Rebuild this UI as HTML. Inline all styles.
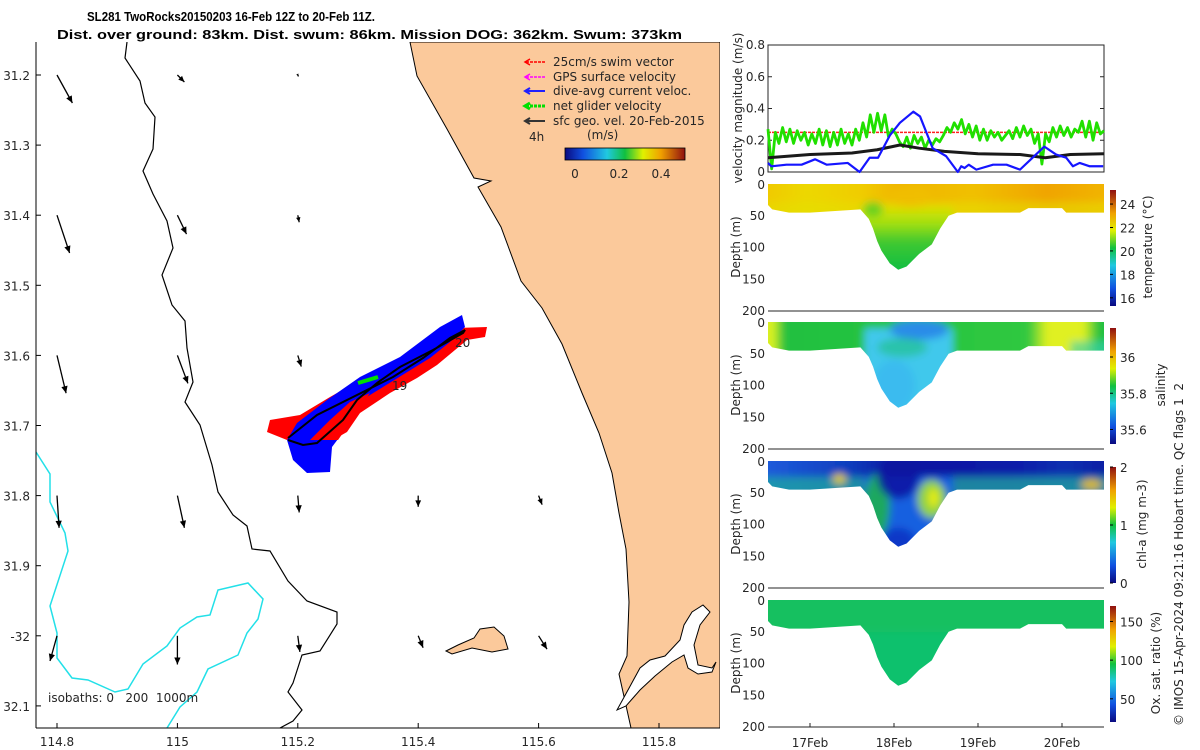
<!DOCTYPE html>
<html><head><meta charset="utf-8">
<style>
html,body{margin:0;padding:0;background:#fff;}
svg{display:block;font-family:"DejaVu Sans","Liberation Sans",sans-serif;}
.t{font-size:12px;fill:#262626;}
</style></head>
<body>
<svg id="fig" width="1200" height="750" viewBox="0 0 1200 750" xmlns="http://www.w3.org/2000/svg">
<defs>
<filter id="blur" x="-10%" y="-10%" width="120%" height="120%"><feGaussianBlur stdDeviation="4"/></filter>
<linearGradient id="jet" x1="0" y1="1" x2="0" y2="0">
<stop offset="0" stop-color="#0a0a80"/><stop offset="0.15" stop-color="#1050e0"/><stop offset="0.35" stop-color="#20c8e0"/><stop offset="0.5" stop-color="#10c040"/><stop offset="0.65" stop-color="#e0f000"/><stop offset="0.8" stop-color="#f0a000"/><stop offset="1" stop-color="#901010"/>
</linearGradient>
<linearGradient id="jeth" x1="0" y1="0" x2="1" y2="0">
<stop offset="0" stop-color="#0a0a80"/><stop offset="0.15" stop-color="#1050e0"/><stop offset="0.35" stop-color="#20c8e0"/><stop offset="0.5" stop-color="#10c040"/><stop offset="0.65" stop-color="#e0f000"/><stop offset="0.8" stop-color="#f0a000"/><stop offset="1" stop-color="#901010"/>
</linearGradient>
<linearGradient id="tempSurf" x1="0" y1="0" x2="1" y2="0">
<stop offset="0" stop-color="#f2c400"/><stop offset="0.15" stop-color="#ecd800"/><stop offset="0.3" stop-color="#f0cc00"/><stop offset="0.4" stop-color="#f0b400"/><stop offset="0.6" stop-color="#f0c000"/><stop offset="0.8" stop-color="#f0a400"/><stop offset="1" stop-color="#f2b800"/>
</linearGradient>
<linearGradient id="tempTrough" x1="0" y1="0" x2="0" y2="1">
<stop offset="0" stop-color="#e0e000"/><stop offset="0.15" stop-color="#a0e010"/><stop offset="0.3" stop-color="#40c830"/><stop offset="0.5" stop-color="#18c040"/><stop offset="1" stop-color="#10c050"/>
</linearGradient>
<linearGradient id="salSurf" x1="0" y1="0" x2="1" y2="0">
<stop offset="0" stop-color="#e4f020"/><stop offset="0.06" stop-color="#d8f020"/><stop offset="0.09" stop-color="#20c040"/><stop offset="0.75" stop-color="#30c840"/><stop offset="0.8" stop-color="#e0f020"/><stop offset="0.9" stop-color="#e0f020"/><stop offset="0.94" stop-color="#20c040"/><stop offset="1" stop-color="#20c040"/>
</linearGradient>
<linearGradient id="chlSurf" x1="0" y1="0" x2="1" y2="0">
<stop offset="0" stop-color="#2060e0"/><stop offset="0.25" stop-color="#1040c0"/><stop offset="0.4" stop-color="#0818a0"/><stop offset="0.7" stop-color="#0a1aa8"/><stop offset="0.85" stop-color="#1030b0"/><stop offset="1" stop-color="#0818a0"/>
</linearGradient>
</defs>

<!-- title -->
<text x="87" y="21" font-family="Liberation Sans, sans-serif" font-size="13" font-weight="bold" fill="#000" textLength="288" lengthAdjust="spacingAndGlyphs">SL281 TwoRocks20150203 16-Feb 12Z to 20-Feb 11Z.</text>
<text x="57" y="39" font-family="Liberation Sans, sans-serif" font-size="13" font-weight="bold" fill="#000" textLength="625" lengthAdjust="spacingAndGlyphs">Dist. over ground: 83km. Dist. swum: 86km. Mission DOG: 362km. Swum: 373km</text>

<!-- MAP -->
<g id="map">
<clipPath id="mapclip"><rect x="36" y="42" width="684" height="686"/></clipPath>
<g clip-path="url(#mapclip)">
<polygon fill="#fbc99b" stroke="#000" stroke-width="1" points="410,42 417,76 447,129 474,178 491,181 478,187 501,227 521,281 542,308 562,344 582,393 599,433 612,473 619,513 626,549 629,602 627,656 619,674 631,728 720,728 720,42"/>
<polygon fill="#fff" stroke="#000" stroke-width="1" points="617,710 628,690 640,668 650,660 665,656 680,640 684,625 692,612 703,605 710,612 700,625 694,645 698,665 712,668 716,662 712,672 698,674 688,668 684,655 672,662 655,676 640,690 626,706"/>
<polygon fill="#fbc99b" stroke="#000" stroke-width="1" points="446,651 458,645 474,638 480,629 494,627 504,636 508,649 492,652 472,648 452,654"/>
<polyline fill="none" stroke="#000" stroke-width="1.2" points="127,42 125,58 140,81 145,103 155,117 153,149 143,171 153,194 167,221 173,248 162,275 172,305 185,321 187,348 193,382 185,402 200,425 212,465 218,492 233,515 247,526 252,549 270,551 288,581 307,601 337,612 337,624 320,651 302,655 293,683 288,692 302,710 293,721 280,728"/>
<polyline fill="none" stroke="#22e0e8" stroke-width="1.5" points="36,452 50,474 50,502 65,533 68,551 50,606 57,633 57,658 72,678 88,680 115,692 128,689 143,664 167,646 180,628 197,617 210,615 218,590 248,583 263,599 258,619 247,633 238,655 208,669 197,692 180,707 167,728"/>
<g id="geoArrows"></g>
<g>
<polygon fill="#ff0000" points="267,432 270,420 300,415 330,397 360,380 397,362 430,342 457,328 487,327 485,337 467,340 437,365 417,378 390,393 360,413 347,432 333,440 317,442 287,440"/>
<polygon fill="#0000ff" points="287,440 293,460 307,473 330,472 332,447 347,427 357,403 383,387 430,358 450,342 465,327 462,315 440,327 400,357 360,377 327,400 297,423"/>
<polygon fill="#ff0000" points="310,440 330,420 350,402 370,393 352,420 338,440"/>
<polyline fill="none" stroke="#00e000" stroke-width="4" points="358,383 378,377"/>
<polyline fill="none" stroke="#000" stroke-width="2" points="288,438 317,415 357,395 393,377 423,358 450,338 465,330 463,333 433,350 400,367 377,383 357,400 343,420 317,443 303,445 288,440"/>
<text class="t" x="392" y="390" font-size="12">19</text>
<text class="t" x="455" y="347" font-size="12">20</text>
</g>
</g>
<line x1="36" y1="42" x2="36" y2="728" stroke="#000"/>
<line x1="36" y1="728" x2="720" y2="728" stroke="#000"/>
<g id="mapTicks"></g>
<text class="t" x="48" y="702" font-size="12" fill="#000">isobaths: 0&#160;&#160;&#160;200&#160;&#160;1000m</text>
<!-- legend -->
<g>
<g><line x1="526" y1="62" x2="545" y2="62" stroke="#ff0000" stroke-width="1.5" stroke-dasharray="3,1"/><polyline points="530,59 525,62 530,65" fill="none" stroke="#ff0000" stroke-width="1.5"/><text class="t" x="553" y="66" fill="#000">25cm/s swim vector</text></g>
<g><line x1="526" y1="77" x2="545" y2="77" stroke="#ff00ff" stroke-width="1.5" stroke-dasharray="3,1"/><polyline points="530,74 525,77 530,80" fill="none" stroke="#ff00ff" stroke-width="1.5"/><text class="t" x="553" y="81" fill="#000">GPS surface velocity</text></g>
<g><line x1="526" y1="91" x2="545" y2="91" stroke="#2020ff" stroke-width="2"/><polyline points="530,88 525,91 530,94" fill="none" stroke="#2020ff" stroke-width="2"/><text class="t" x="553" y="95" fill="#000">dive-avg current veloc.</text></g>
<g><line x1="526" y1="106" x2="545" y2="106" stroke="#00e000" stroke-width="3" stroke-dasharray="3,1"/><polyline points="530,103 525,106 530,109" fill="none" stroke="#00e000" stroke-width="3"/><text class="t" x="553" y="110" fill="#000">net glider velocity</text></g>
<g><line x1="526" y1="121" x2="545" y2="121" stroke="#333" stroke-width="2"/><polyline points="530,118 525,121 530,124" fill="none" stroke="#333" stroke-width="2"/><text class="t" x="553" y="125" fill="#000">sfc geo. vel. 20-Feb-2015</text></g>
<text class="t" x="529" y="141" fill="#000">4h</text>
<text class="t" x="587" y="139" font-size="14" fill="#000">(m/s)</text>
<rect x="565" y="148" width="120" height="12" fill="url(#jeth)" stroke="#000" stroke-width="0.8"/>
<text class="t" x="575" y="178" text-anchor="middle" fill="#000">0</text>
<text class="t" x="619" y="178" text-anchor="middle" fill="#000">0.2</text>
<text class="t" x="661" y="178" text-anchor="middle" fill="#000">0.4</text>
</g>
</g>

<!-- velocity panel -->
<g id="velPanel">
<rect x="768" y="45" width="336" height="127" fill="#fff" stroke="#262626" stroke-width="1"/>
<text class="t" transform="translate(742,108) rotate(-90)" text-anchor="middle">velocity magnitude (m/s)</text>
</g>
<g id="sections"></g>
<text class="t" font-size="13" transform="translate(1183,726) rotate(-90)">© IMOS 15-Apr-2024 09:21:16 Hobart time. QC flags 1&#160;&#160;2</text>

<script>
// ===== chart data =====
const velTicks = [0, 0.2, 0.4, 0.6, 0.8];
const velTickLabels = ["0", "0.2", "0.4", "0.6", "0.8"];
const dayTicks = [17, 18, 19, 20];
const dayTickLabels = ["17Feb", "18Feb", "19Feb", "20Feb"];
const depthTicks = [0, 50, 100, 150, 200];
const greenStartDay = 16.5;
const greenEndDay = 20.5;
const greenNet = [0.27,0.02,0.25,0.18,0.28,0.19,0.27,0.18,0.26,0.2,0.25,0.17,0.24,0.18,0.27,0.17,0.26,0.16,0.25,0.17,0.27,0.18,0.24,0.17,0.27,0.2,
0.31,0.22,0.36,0.25,0.37,0.26,0.36,0.22,0.27,0.24,0.19,0.16,0.22,0.15,0.23,0.18,0.22,0.15,0.2,0.17,0.21,0.19,0.23,
0.28,0.25,0.31,0.27,0.33,0.24,0.3,0.22,0.29,0.2,0.27,0.2,0.26,0.22,0.25,0.2,0.23,0.26,0.21,0.28,0.22,0.29,0.23,0.27,0.18,0.24,0.05,0.24,0.19,0.28,0.22,0.29,0.23,0.28,0.22,0.27,0.25,0.32,0.22,0.32,0.2,0.31,0.24,0.26];
const blueDays = [16.5,16.54,16.72,16.9,17.06,17.2,17.45,17.59,17.71,17.81,17.95,18.07,18.23,18.31,18.46,18.62,18.76,18.8,18.84,18.89,18.98,19.18,19.34,19.5,19.65,19.79,19.93,20.05,20.13,20.21,20.33,20.49];
const blueVals = [0.057,0.036,0.046,0.046,0.08,0.046,0.057,0.0,0.09,0.09,0.23,0.31,0.38,0.35,0.15,0.1,0.0,0.036,0.025,0.046,0.015,0.046,0.046,0.015,0.09,0.16,0.11,0.09,0.036,0.057,0.036,0.036];
const geoDays = [16.5,17.0,17.5,17.8,18.07,18.3,18.6,19.0,19.5,19.8,20.1,20.5];
const geoVals = [0.09,0.11,0.12,0.14,0.17,0.15,0.13,0.115,0.11,0.09,0.11,0.115];
const swimDays = [16.5,20.5];
const swimVals = [0.25,0.25];
const profDays = [16.5,16.55,16.75,17.0,17.6,17.7,17.75,17.8,17.85,17.95,18.05,18.15,18.3,18.45,18.55,18.65,18.75,19.0,19.5,19.6,20.0,20.05,20.5];
const profDepth = [33,40,45,45,40,55,70,90,105,125,135,130,110,95,70,50,45,45,45,38,38,45,45];
const mapLonTicks = [114.8,115,115.2,115.4,115.6,115.8];
const mapLonLabels = ["114.8","115","115.2","115.4","115.6","115.8"];
const mapLatTicks = [31.2,31.3,31.4,31.5,31.6,31.7,31.8,31.9,32,32.1];
const mapLatLabels = ["31.2","31.3","31.4","31.5","31.6","31.7","31.8","31.9","-32","32.1"];
const arrowLon = [114.8,114.8,114.8,114.8,114.8,115,115,115,115,115,115.2,115.2,115.2,115.2,115.2,115.4,115.4,115.6,115.6,115.4];
const arrowLat = [31.2,31.4,31.6,31.8,32,31.2,31.4,31.6,31.8,32,31.2,31.4,31.6,31.8,32,31.8,32,31.8,32,31.6];
const arrowU = [0.022,0.018,0.013,0.003,-0.01,0.01,0.013,0.015,0.01,0.0,0.001,0.002,0.005,0.002,0.003,0.0,0.007,0.005,0.012,-0.003];
const arrowV = [-0.04,-0.054,-0.054,-0.046,-0.036,-0.01,-0.027,-0.04,-0.046,-0.041,-0.002,-0.01,-0.016,-0.024,-0.023,-0.016,-0.017,-0.013,-0.019,-0.014];
const cbTemp = {lo:15.3, hi:25.2, ticks:[16,18,20,22,24]};
const cbSal = {lo:35.52, hi:36.16, ticks:[35.6,35.8,36]};
const cbChl = {lo:0, hi:2, ticks:[0,1,2]};
const cbOx = {lo:20, hi:170, ticks:[50,100,150]};

const NS = "http://www.w3.org/2000/svg";
function mk(tag, attrs, parent){ const e=document.createElementNS(NS,tag); for(const k in attrs) e.setAttribute(k,attrs[k]); if(parent) parent.appendChild(e); return e; }

// ===== map axes =====
const lonX = v => 57 + (v-114.8)/0.2*120.4;
const latY = v => 75 + (v-31.2)/0.1*70.1;
const mt = document.getElementById('mapTicks');
mapLonTicks.forEach((v,i)=>{
  const l=mk('line',{x1:lonX(v),x2:lonX(v),y1:728,y2:723,stroke:'#000'},mt);
  
  
  const t=mk('text',{x:lonX(v),y:746,'text-anchor':'middle',class:'t','font-size':'13',fill:'#000'},mt); t.textContent=mapLonLabels[i];
  
  
});
mapLatTicks.forEach((v,i)=>{
  const l=mk('line',{x1:36,x2:41,y1:latY(v),y2:latY(v),stroke:'#000'},mt);
  
  
  const t=mk('text',{x:30,y:latY(v)+5,'text-anchor':'end',class:'t','font-size':'13',fill:'#000'},mt); t.textContent=mapLatLabels[i];
  
  
});
const ga=document.getElementById('geoArrows');
const arrowScale = 700;
arrowLon.forEach((lo,i)=>{
  const x0=lonX(lo), y0=latY(arrowLat[i]);
  const x1=x0+arrowU[i]*arrowScale, y1=y0-arrowV[i]*arrowScale;
  const g=mk('g',{},ga);
  
  
  mk('line',{x1:x0,y1:y0,x2:x1,y2:y1,stroke:'#000','stroke-width':1.3},g);
  const len=Math.hypot(x1-x0,y1-y0)||1, ux=(x1-x0)/len, uy=(y1-y0)/len, h=Math.min(7,len*0.4+2);
  mk('polygon',{points:`${x1},${y1} ${x1-ux*h-uy*h*0.45},${y1-uy*h+ux*h*0.45} ${x1-ux*h+uy*h*0.45},${y1-uy*h-ux*h*0.45}`,fill:'#000'},g);
});

// ===== velocity panel =====
const dX = d => 768 + (d-16.5)*84;
const vY = v => 172 - v/0.8*127;
const vp=document.getElementById('velPanel');
velTicks.forEach((v,i)=>{
  mk('line',{x1:768,x2:772,y1:vY(v),y2:vY(v),stroke:'#262626'},vp);
  mk('line',{x1:1100,x2:1104,y1:vY(v),y2:vY(v),stroke:'#262626'},vp);
  const t=mk('text',{x:765,y:vY(v)+4,'text-anchor':'end',class:'t'},vp); t.textContent=velTickLabels[i];
  
  
});
function line(days, vals, color, w, name, dash){
  const pts=days.map((d,i)=>dX(d)+','+vY(vals[i])).join(' ');
  const p=mk('polyline',{points:pts,fill:'none',stroke:color,'stroke-width':w,'stroke-linejoin':'round'},vp);
  if(dash) p.setAttribute('stroke-dasharray',dash);
  
  
}
line(swimDays, swimVals, '#ff2020', 1.5, 'swim-speed-line', '3,1');
const gStep=(greenEndDay-greenStartDay)/(greenNet.length-1);
line(greenNet.map((v,i)=>greenStartDay+i*gStep), greenNet, '#20e000', 2.8, 'net-glider-speed-line');
line(geoDays, geoVals, '#1a1a1a', 3, 'geo-speed-line');
line(blueDays, blueVals, '#1515ff', 2.2, 'dive-avg-current-line');

// ===== sections =====
const sec=document.getElementById('sections');
const panels=[
 {name:'temperature',top:184,label:'temperature (°C)',lx:1152,cb:cbTemp},
 {name:'salinity',top:322,label:'salinity',lx:1165,cb:cbSal},
 {name:'chl-a',top:461,label:'chl-a (mg m-3)',lx:1146,cb:cbChl},
 {name:'oxygen',top:600,label:'Ox. sat. ratio (%)',lx:1160,cb:cbOx}
];
panels.forEach((P,pi)=>{
  const g=mk('g',{},sec);
  
  
  const zY = z => P.top + z/200*127;
  let d='M'+dX(profDays[0])+','+zY(0);
  profDays.forEach((dd,i)=>{ d+=' L'+dX(dd)+','+zY(profDepth[i]); });
  d+=' L'+dX(profDays[profDays.length-1])+','+zY(0)+' Z';
  const cid='clip'+pi;
  const cp=mk('clipPath',{id:cid},g); mk('path',{d:d},cp);
  const outer=mk('g',{'clip-path':`url(#${cid})`},g);
  const fills=mk('g',{filter:'url(#blur)'},outer);
  const R=(d0,d1,z0,z1,fill,op)=>mk('rect',{x:dX(d0),y:zY(z0),width:dX(d1)-dX(d0),height:zY(z1)-zY(z0),fill:fill,opacity:op||1},fills);
  const E=(dc,zc,rx,rz,fill,op)=>mk('ellipse',{cx:dX(dc),cy:zY(zc),rx:rx*84,ry:rz/200*127,fill:fill,opacity:op||1},fills);
  if(pi===0){
    R(16.3,20.7,-20,220,'url(#tempSurf)');
    R(16.3,20.7,28,60,'#e4e000',0.55);
    R(17.6,18.7,35,220,'url(#tempTrough)');
    E(17.75,40,0.12,12,'#60d020',0.9);
    E(18.2,20,0.25,18,'#f0c000',0.7);
  } else if(pi===1){
    R(16.3,20.7,-20,220,'url(#salSurf)');
    R(17.65,18.7,10,220,'#40c8ec');
    E(18.3,12,0.35,16,'#2a8ce8');
    E(18.1,40,0.3,15,'#20c090',0.7);
    E(18.0,100,0.25,40,'#38b8f0',0.8);
    R(20.1,20.7,30,60,'#30d0c0',0.6);
  } else if(pi===2){
    R(16.3,20.7,-20,220,'url(#chlSurf)');
    R(16.3,20.7,25,60,'#20a8a0',0.75);
    R(17.65,18.7,25,220,'#1460e0');
    E(17.8,70,0.15,50,'#20b050',0.9);
    E(18.45,60,0.17,30,'#a0e030',0.9);
    E(18.47,58,0.06,15,'#f0f000',0.9);
    E(17.35,28,0.08,8,'#f0d000',0.9);
    E(20.35,37,0.12,8,'#f0c000',0.9);
    E(18.05,25,0.25,35,'#0a14a0',0.85);
    E(18.05,125,0.2,20,'#1030c0',0.8);
  } else {
    R(16.3,20.7,-20,220,'#14c060');
    R(17.6,18.75,50,220,'#10c070',0.8);
  }
  mk('line',{x1:768,x2:1104,y1:zY(200),y2:zY(200),stroke:'#262626'},g);
  depthTicks.forEach(z=>{
    const t=mk('text',{x:765,y:zY(z)+(z===0?5:4),'text-anchor':'end',class:'t'},g); t.textContent=String(z);
    
    
  });
  const yl=mk('text',{class:'t',transform:`translate(740,${P.top+63}) rotate(-90)`,'text-anchor':'middle'},g); yl.textContent='Depth (m)';
  
  
  if(pi===3){
    dayTicks.forEach((dd,i)=>{
      mk('line',{x1:dX(dd),x2:dX(dd),y1:zY(200),y2:zY(200)-4,stroke:'#262626'},g);
      const t=mk('text',{x:dX(dd),y:747,'text-anchor':'middle',class:'t'},g); t.textContent=dayTickLabels[i];
      
      
    });
  }
  const cbTop=P.top+6, cbH=116;
  const cb=mk('rect',{x:1110,y:cbTop,width:6,height:cbH,fill:'url(#jet)'},g);
  
  
  P.cb.ticks.forEach(v=>{
    const y=cbTop+cbH-(v-P.cb.lo)/(P.cb.hi-P.cb.lo)*cbH;
    mk('line',{x1:1110,x2:1113,y1:y,y2:y,stroke:'#000'},g);
    const t=mk('text',{x:1120,y:y+5,class:'t','font-size':'13'},g); t.textContent=String(v);
    
    
  });
  const cl=mk('text',{class:'t','font-size':'13',transform:`translate(${P.lx},${P.top+63}) rotate(-90)`,'text-anchor':'middle'},g); cl.textContent=P.label;
  
  
});
</script>
</svg>
</body></html>
